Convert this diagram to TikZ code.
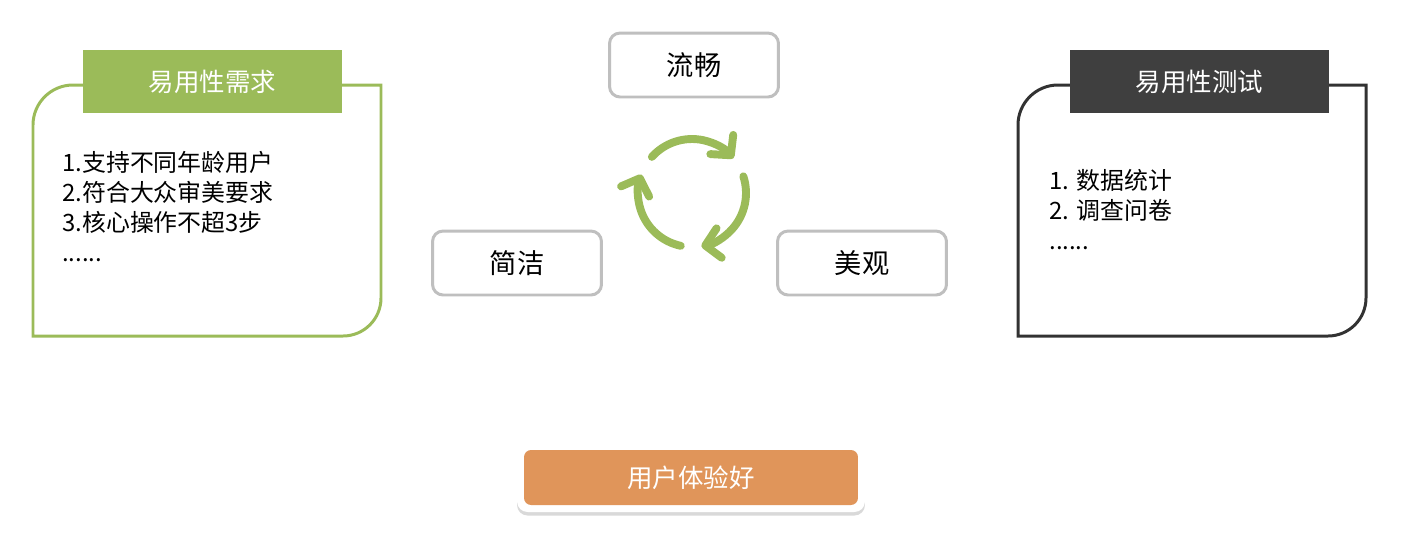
\documentclass[tikz,border=0pt]{standalone}
\usepackage{fontspec}
\setmainfont{Noto Sans CJK SC}
\usetikzlibrary{arrows.meta,shadows}
\definecolor{leafgreen}{HTML}{9BBB59}
\definecolor{softgray}{HTML}{BFBFBF}
\definecolor{darkhead}{HTML}{3F3F3F}
\definecolor{goodorange}{HTML}{E0955A}
\tikzset{
	word/.style={draw=softgray,line width=1.7pt,rounded corners=6pt,fill=white,minimum width=3.38cm,minimum height=1.28cm,font=\fontsize{15.5}{18}\selectfont},
	head/.style={inner sep=0pt,minimum width=5.18cm,minimum height=1.26cm,text=white,font=\fontsize{14.5}{17}\selectfont},
	list/.style={anchor=north west,align=left,inner sep=0pt,font=\fontsize{13.6}{17}\selectfont},
	cycarrow/.style={leafgreen,line width=4.5pt,line cap=round,-{Straight Barb[round,length=8pt,width=17pt]}}
}
\begin{document}
\begin{tikzpicture}[x=0.02cm,y=0.02cm]
	            \useasboundingbox (0,0) rectangle (1407,-539);
	            \draw[leafgreen,line width=1.7pt] (381,-85) -- (73,-85) arc (90:180:40) -- (33,-336) -- (343,-336) arc (-90:0:38) -- cycle;
	            \node[head,fill=leafgreen] (need) at (212.5,-81.5) {易用性需求};
	            \node[list] (needlist) at (62,-151) {1.支持不同年龄用户\\2.符合大众审美要求\\3.核心操作不超3步\\......};
	            \draw[darkhead!80!black,line width=1.7pt] (1366,-85) -- (1058,-85) arc (90:180:40) -- (1018,-336) -- (1328,-336) arc (-90:0:38) -- cycle;
	            \node[head,fill=darkhead] (test) at (1199.5,-81.5) {易用性测试};
	            \node[list] (testlist) at (1049,-169) {1. 数据统计\\2. 调查问卷\\......};
	            \node[word] (smooth) at (694,-65) {流畅};
	            \node[word] (simple) at (517,-263) {简洁};
	            \node[word] (pretty) at (862,-263) {美观};
	            \coordinate (loop) at (692,-193);
	            \draw[cycarrow] (loop) ++(138:54) arc (138:40:54);
	            \draw[cycarrow] (loop) ++(18:54) arc (18:-80:54);
	            \draw[cycarrow] (loop) ++(-102:54) arc (-102:-200:54);
	            \node[fill=white,rounded corners=6pt,drop shadow={shadow xshift=0pt,shadow yshift=-2pt,opacity=0.3},minimum width=6.96cm,minimum height=1.28cm] (goodbg) at (691,-480) {};
	            \node[fill=goodorange,rounded corners=4pt,minimum width=6.68cm,minimum height=1.1cm,text=white,font=\fontsize{14.5}{17}\selectfont] (good) at (691,-477.5) {用户体验好};
\end{tikzpicture}
\end{document}
